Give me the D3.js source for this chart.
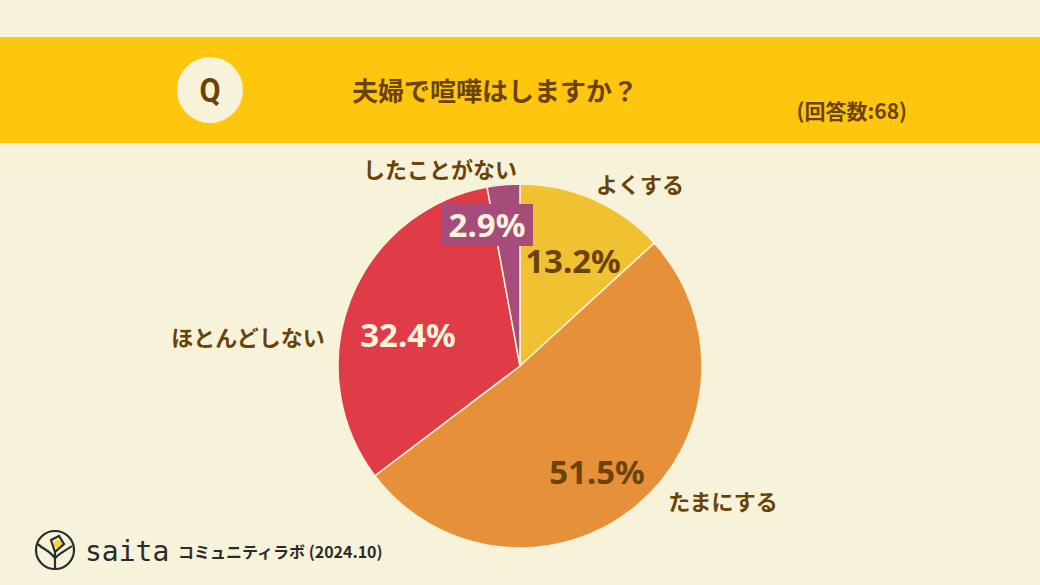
<!DOCTYPE html>
<html>
<head>
<meta charset="utf-8">
<script src="https://cdn.jsdelivr.net/npm/d3@7"></script>
<style>
  body { margin: 0; background: #f7f3da; }
  svg { display: block; font-family: "Noto Sans CJK JP", "Noto Sans", sans-serif; }
</style>
</head>
<body>
<div id="chart-area"></div>
<script>
const WIDTH = 1040
const HEIGHT = 585

// data
const categories = ["よくする", "たまにする", "ほとんどしない", "したことがない"]
const values = [13.2, 51.5, 32.4, 2.9]
const colors = ["#f0c232", "#e6913a", "#e03c48", "#a54c7a"]
const respondents = 68

const BROWN = "#6b4308"
const CREAM = "#f7f3da"

const svg = d3.select("#chart-area")
	.append("svg")
	.attr("width", WIDTH)
	.attr("height", HEIGHT)

svg.append("rect")
	.attr("width", WIDTH)
	.attr("height", HEIGHT)
	.attr("fill", CREAM)

// header band
svg.append("rect")
	.attr("x", 0)
	.attr("y", 37)
	.attr("width", WIDTH)
	.attr("height", 106)
	.attr("fill", "#ffc60e")

svg.append("circle")
	.attr("cx", 210)
	.attr("cy", 90)
	.attr("r", 33)
	.attr("fill", CREAM)

svg.append("text")
	.attr("x", 210)
	.attr("y", 102)
	.attr("text-anchor", "middle")
	.attr("font-size", 34)
	.attr("font-weight", "bold")
	.attr("fill", BROWN)
	.attr("font-family", "Roboto, sans-serif")
	.attr("transform", "translate(210,102) scale(0.9,1) translate(-210,-102)")
	.text("Q")

svg.append("text")
	.attr("x", 352)
	.attr("y", 101)
	.attr("font-size", 26)
	.attr("font-weight", "bold")
	.attr("fill", BROWN)
	.text("夫婦で喧嘩はしますか？")

svg.append("text")
	.attr("x", 907)
	.attr("y", 119)
	.attr("text-anchor", "end")
	.attr("font-size", 21)
	.attr("font-weight", "bold")
	.attr("fill", BROWN)
	.text(`(回答数:${respondents})`)

// pie
const CX = 520, CY = 366, R = 182

const pie = d3.pie().sort(null).value(d => d)
const arc = d3.arc().innerRadius(0).outerRadius(R)
const arcs = pie(values)

const g = svg.append("g")
	.attr("transform", `translate(${CX}, ${CY})`)

g.selectAll("path.slice")
	.data(arcs)
	.enter()
	.append("path")
	.attr("class", "slice")
	.attr("d", arc)
	.attr("fill", (d, i) => colors[i])
	.attr("stroke", CREAM)
	.attr("stroke-width", 1.5)

// percent labels (offsets relative to center)
const pctPos = [
	{ x: 53, y: -104, fill: BROWN },
	{ x: 77, y: 107, fill: BROWN },
	{ x: -112, y: -30, fill: "#fbf3dc" },
	{ x: -33, y: -140, fill: "#fbf3dc" }
]

// background box for the small slice
g.append("rect")
	.attr("x", -79)
	.attr("y", -162)
	.attr("width", 92)
	.attr("height", 42)
	.attr("fill", colors[3])

g.selectAll("text.pct")
	.data(arcs)
	.enter()
	.append("text")
	.attr("class", "pct")
	.attr("x", (d, i) => pctPos[i].x)
	.attr("y", (d, i) => pctPos[i].y + 11)
	.attr("text-anchor", "middle")
	.attr("font-family", "\"Noto Sans\", sans-serif")
	.attr("font-size", 33)
	.attr("font-weight", "bold")
	.attr("fill", (d, i) => pctPos[i].fill)
	.text(d => d.data.toFixed(1) + "%")

// category labels
const catPos = [
	{ x: 120, y: -181 },
	{ x: 203, y: 136 },
	{ x: -272, y: -28 },
	{ x: -80, y: -196 }
]

g.selectAll("text.cat")
	.data(categories)
	.enter()
	.append("text")
	.attr("class", "cat")
	.attr("x", (d, i) => catPos[i].x)
	.attr("y", (d, i) => catPos[i].y + 8)
	.attr("text-anchor", "middle")
	.attr("font-size", 22)
	.attr("font-weight", "bold")
	.attr("fill", BROWN)
	.text(d => d)

// footer logo
const logo = svg.append("g")
	.attr("transform", "translate(55, 550)")
	.attr("fill", "none")
	.attr("stroke", "#2b2b2b")
	.attr("stroke-width", 2.2)

logo.append("circle").attr("r", 19)
logo.append("circle")
	.attr("cx", 3).attr("cy", -6).attr("r", 4)
	.attr("fill", "#f5d632").attr("stroke", "none")
logo.append("path").attr("d", "M0,19 L0,2 L9,-6 L4,-14 L-4,-10 L0,2")
logo.append("path").attr("d", "M0,8 C-6,0 -14,-2 -17,-6")
logo.append("path").attr("d", "M0,8 C6,2 12,0 17,-4")

svg.append("text")
	.attr("x", 85)
	.attr("y", 561)
	.attr("font-family", "\"DejaVu Sans Mono\", monospace")
	.attr("font-size", 28)
	.attr("fill", "#2b2b2b")
	.text("saita")

svg.append("text")
	.attr("x", 178)
	.attr("y", 558)
	.attr("font-size", 16)
	.attr("font-weight", "bold")
	.attr("fill", "#2b2b2b")
	.text("コミュニティラボ (2024.10)")
</script>
</body>
</html>
